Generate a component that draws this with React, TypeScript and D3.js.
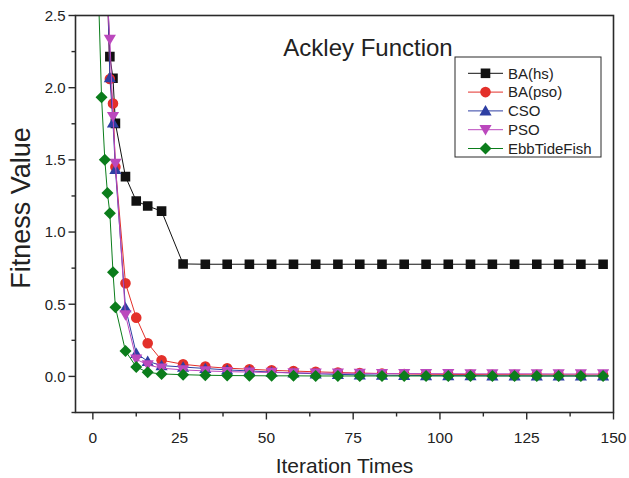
import React from "react";
import * as d3 from "d3";

const W = 629;
const H = 478;

const iterations = [1, 2.5, 3.45, 4.2, 4.9, 5.8, 6.5, 9.4, 12.5, 15.8, 19.8, 26, 32.4, 38.7, 45.1, 51.5, 57.8, 64.2, 70.6, 76.9, 83.3, 89.7, 96.0, 102.4, 108.8, 115.1, 121.5, 127.9, 134.2, 140.6, 147.0];

const baHs = [4.5, 3.6, 3.0, 2.7, 2.215, 2.065, 1.753, 1.384, 1.215, 1.18, 1.145, 0.779, 0.777, 0.777, 0.777, 0.777, 0.777, 0.777, 0.777, 0.777, 0.777, 0.777, 0.777, 0.777, 0.777, 0.777, 0.777, 0.777, 0.777, 0.777, 0.777];
const baPso = [4.6, 3.7, 3.1, 2.7, 2.06, 1.89, 1.45, 0.645, 0.407, 0.23, 0.112, 0.084, 0.068, 0.057, 0.05, 0.042, 0.037, 0.032, 0.027, 0.023, 0.02, 0.017, 0.015, 0.014, 0.013, 0.012, 0.012, 0.011, 0.011, 0.01, 0.01];
const cso = [4.4, 3.5, 2.9, 2.7, 2.07, 1.757, 1.435, 0.476, 0.16, 0.105, 0.075, 0.065, 0.055, 0.045, 0.038, 0.03, 0.024, 0.018, 0.014, 0.011, 0.009, 0.007, 0.006, 0.005, 0.005, 0.004, 0.004, 0.003, 0.003, 0.003, 0.003];
const pso = [4.3, 3.4, 2.9, 2.6, 2.335, 1.8, 1.476, 0.426, 0.119, 0.08, 0.057, 0.045, 0.038, 0.033, 0.03, 0.027, 0.025, 0.023, 0.022, 0.021, 0.02, 0.02, 0.019, 0.019, 0.018, 0.018, 0.018, 0.018, 0.017, 0.017, 0.017];
const ebbTideFish = [3.16, 1.934, 1.5, 1.27, 1.13, 0.722, 0.479, 0.176, 0.066, 0.028, 0.017, 0.012, 0.008, 0.006, 0.005, 0.004, 0.004, 0.003, 0.003, 0.003, 0.003, 0.003, 0.003, 0.003, 0.003, 0.003, 0.003, 0.003, 0.003, 0.003, 0.003];

const seriesNames = ["BA(hs)", "BA(pso)", "CSO", "PSO", "EbbTideFish"];
const seriesColors = ["#111111", "#e3302a", "#2e3fa3", "#bb48bd", "#0b7d1b"];
const seriesShapes = ["square", "circle", "triangle", "triangleDown", "diamond"];
const seriesValues = [baHs, baPso, cso, pso, ebbTideFish];

const xTicks = [0, 25, 50, 75, 100, 125, 150];
const xMinorTicks = [12.5, 37.5, 62.5, 87.5, 112.5, 137.5];
const yTicks = [0, 0.5, 1.0, 1.5, 2.0, 2.5];
const yMinorTicks = [-0.25, 0.25, 0.75, 1.25, 1.75, 2.25];

const FONT = "'Liberation Sans', Arial, sans-serif";

function markerPath(shape: string, cx: number, cy: number): string {
  if (shape === "square") {
    const s = 4.8;
    return `M${cx - s},${cy - s}H${cx + s}V${cy + s}H${cx - s}Z`;
  }
  if (shape === "circle") {
    const r = 5.3;
    return `M${cx - r},${cy}A${r},${r} 0 1,0 ${cx + r},${cy}A${r},${r} 0 1,0 ${cx - r},${cy}Z`;
  }
  if (shape === "triangle") {
    const h = 5.8;
    return `M${cx},${cy - h}L${cx + h * 1.05},${cy + h * 0.8}L${cx - h * 1.05},${cy + h * 0.8}Z`;
  }
  if (shape === "triangleDown") {
    const h = 5.8;
    return `M${cx},${cy + h}L${cx + h * 1.05},${cy - h * 0.8}L${cx - h * 1.05},${cy - h * 0.8}Z`;
  }
  const d = 6;
  return `M${cx},${cy - d}L${cx + d},${cy}L${cx},${cy + d}L${cx - d},${cy}Z`;
}

export default function App() {
  const left = 75.5;
  const right = 613.5;
  const top = 15.5;
  const bottom = 412.5;
  const x = d3.scaleLinear().domain([-5, 150]).range([left, right]);
  const y = d3.scaleLinear().domain([-0.25, 2.5]).range([bottom, top]);

  const line = d3
    .line<[number, number]>()
    .x((d) => x(d[0]))
    .y((d) => y(d[1]));

  const axisColor = "#2a2a2a";

  const legendX = 455;
  const legendY = 57;
  const legendRowH = 18.8;

  return (
    <svg
      width={W}
      height={H}
      style={{ position: "absolute", left: 0, top: 0, background: "#fff" }}
      fontFamily={FONT}
    >
      <defs>
        <clipPath id="plotClip">
          <rect x={left} y={top} width={right - left} height={bottom - top} />
        </clipPath>
      </defs>
      <rect x={0} y={0} width={W} height={H} fill="#fff" />

      <g clipPath="url(#plotClip)">
        {seriesValues.map((vals, si) => {
          const pts: [number, number][] = iterations.map((it, i) => [it, vals[i]]);
          return (
            <g key={si}>
              <path d={line(pts) || ""} fill="none" stroke={seriesColors[si]} strokeWidth={1} />
              {pts.map((p, i) => (
                <path key={i} d={markerPath(seriesShapes[si], x(p[0]), y(p[1]))} fill={seriesColors[si]} />
              ))}
            </g>
          );
        })}
      </g>

      {/* frame */}
      <rect x={left} y={top} width={right - left} height={bottom - top} fill="none" stroke={axisColor} strokeWidth={1.6} />

      {/* x ticks */}
      {xTicks.map((t) => (
        <g key={"xt" + t}>
          <line x1={x(t)} x2={x(t)} y1={bottom} y2={bottom + 7} stroke={axisColor} strokeWidth={1.4} />
          <text x={x(t)} y={bottom + 30} fontSize={15.5} textAnchor="middle" fill="#222">
            {t}
          </text>
        </g>
      ))}
      {xMinorTicks.map((t) => (
        <line key={"xm" + t} x1={x(t)} x2={x(t)} y1={bottom} y2={bottom + 4} stroke={axisColor} strokeWidth={1.4} />
      ))}

      {/* y ticks */}
      {yTicks.map((t) => (
        <g key={"yt" + t}>
          <line x1={left - 7} x2={left} y1={y(t)} y2={y(t)} stroke={axisColor} strokeWidth={1.4} />
          <text x={left - 10} y={y(t) + 5.3} fontSize={15} textAnchor="end" fill="#222">
            {t.toFixed(1)}
          </text>
        </g>
      ))}
      {yMinorTicks.map((t) => (
        <line key={"ym" + t} x1={left - 4} x2={left} y1={y(t)} y2={y(t)} stroke={axisColor} strokeWidth={1.4} />
      ))}

      {/* axis titles */}
      <text x={(left + right) / 2} y={473} fontSize={21} textAnchor="middle" fill="#222">
        Iteration Times
      </text>
      <text
        transform={`translate(30, 208) rotate(-90)`}
        fontSize={27}
        textAnchor="middle"
        fill="#222"
      >
        Fitness Value
      </text>

      {/* chart title */}
      <text x={368} y={56} fontSize={24} textAnchor="middle" fill="#222">
        Ackley Function
      </text>

      {/* legend */}
      <rect x={legendX} y={legendY} width={146} height={100} fill="#fff" stroke={axisColor} strokeWidth={1} />
      {seriesNames.map((name, i) => {
        const cy = legendY + 16.3 + i * legendRowH;
        return (
          <g key={name}>
            <line x1={468} x2={503} y1={cy} y2={cy} stroke={seriesColors[i]} strokeWidth={1} />
            <path d={markerPath(seriesShapes[i], 485.5, cy)} fill={seriesColors[i]} />
            <text x={508} y={cy + 5.3} fontSize={15} fill="#222">
              {name}
            </text>
          </g>
        );
      })}
    </svg>
  );
}
